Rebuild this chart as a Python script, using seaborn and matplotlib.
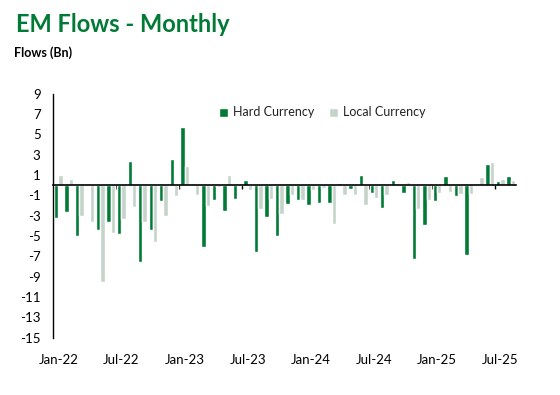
import numpy as np
import pandas as pd
import matplotlib
matplotlib.use("Agg")
import matplotlib.pyplot as plt
import seaborn as sns

months = pd.date_range("2022-01-01", "2025-08-01", freq="MS").strftime("%b-%y").tolist()

hard_currency = [-3.2, -2.6, -4.95, 0.0, -4.35, -3.65, -4.75, 2.4, -7.5, -4.35,
                 -1.5, 2.6, 5.75, 0.13, -6.1, -1.4, -2.5, -1.3, 0.5, -6.6,
                 -3.1, -4.95, -1.8, -1.4, -1.9, -1.7, -1.7, 0.23, -0.33, 1.0,
                 -0.8, -2.2, 0.5, -0.8, -7.2, -3.95, -1.5, 0.9, -1.1, -6.9,
                 0.13, 2.1, 0.42, 0.9]
local_currency = [1.0, 0.62, -3.0, -3.6, -9.5, -4.65, -3.3, -2.1, -3.65, -5.55,
                  -3.0, -1.1, 1.9, -1.0, -2.0, -0.15, 1.0, 0.23, -0.43, -2.3,
                  -1.3, -2.8, -0.92, -1.4, -0.43, -0.23, -3.8, -1.0, -0.92, -1.9,
                  -1.2, -1.0, 0.23, 0.33, -2.3, -1.4, -0.72, -0.62, -0.82, -0.82,
                  0.82, 2.3, 0.62, 0.52]
series_names = ["Hard Currency", "Local Currency"]
series_colors = ["#017A36", "#C5D4C9"]
y_ticks = list(range(-15, 10, 2))
label_months = ["Jan-22", "Jul-22", "Jan-23", "Jul-23", "Jan-24", "Jul-24", "Jan-25", "Jul-25"]

df = pd.DataFrame({
    "Month": months * 2,
    "Series": [series_names[0]] * len(months) + [series_names[1]] * len(months),
    "Flows": hard_currency + local_currency,
})

sns.set_theme(style="white")
plt.rcParams["font.family"] = ["Lato", "DejaVu Sans"]

fig = plt.figure(figsize=(5.6, 3.95), dpi=100)
ax = fig.add_axes([53 / 560, 1 - 337.8 / 395, (516 - 53) / 560, (337.8 - 93.8) / 395])

sns.barplot(data=df, x="Month", y="Flows", hue="Series", order=months,
            hue_order=series_names, palette=series_colors, width=0.84,
            gap=0, saturation=1, ax=ax, legend=True)

ax.set_xlim(-0.5, len(months) - 0.5)
ax.set_ylim(min(y_ticks), max(y_ticks))
ax.set_yticks(y_ticks)
ax.set_yticklabels([str(t) for t in y_ticks])
ax.tick_params(axis="y", length=0, pad=9, labelsize=9.5, colors="#000000")
ax.set_xlabel("")
ax.set_ylabel("")

for s in ["top", "right"]:
    ax.spines[s].set_visible(False)
ax.spines["left"].set_color("black")
ax.spines["left"].set_linewidth(1.0)
ax.spines["bottom"].set_position(("data", 0))
ax.spines["bottom"].set_color("black")
ax.spines["bottom"].set_linewidth(1.2)
ax.spines["bottom"].set_zorder(5)

# minor tick marks at six-month boundaries on the zero line
ax.set_xticks([i - 0.5 for i in range(6, len(months), 6)], minor=True)
ax.set_xticks([])
ax.tick_params(axis="x", which="minor", length=3, width=1, direction="out", color="black", bottom=True)

# labels at the bottom
sec = ax.secondary_xaxis(0)
label_pos = [months.index(m) for m in label_months]
sec.set_xticks(label_pos)
sec.set_xticklabels(label_months)
sec.tick_params(length=0, pad=12, labelsize=9.5, colors="#000000")
sec.spines["bottom"].set_visible(False)

leg = ax.legend(loc="center left", bbox_to_anchor=(213 / 560, 1 - 112.5 / 395),
                bbox_transform=fig.transFigure, ncol=2, frameon=False,
                fontsize=9, handlelength=0.7, handleheight=0.7,
                handletextpad=0.4, columnspacing=1.2, borderpad=0)
for t in leg.get_texts():
    t.set_color("#222222")

fig.text(16 / 560, 1 - 24 / 395, "EM Flows - Monthly", color="#017A36",
         fontsize=17, fontweight="bold", va="center", ha="left")
fig.text(14 / 560, 1 - 53 / 395, "Flows (Bn)", color="black",
         fontsize=9, fontweight="bold", va="center", ha="left")

fig.savefig("out.png", dpi=100)
